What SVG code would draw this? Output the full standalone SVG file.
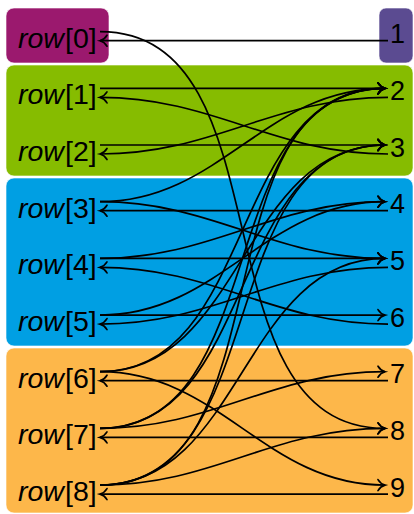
<svg xmlns="http://www.w3.org/2000/svg" width="414" height="514" viewBox="0 0 414 514">
<defs>
<style>
.box{stroke:#ffffff;stroke-opacity:0.6;stroke-width:1}
.lbl{font-family:"Liberation Sans",Arial,sans-serif;font-size:28.5px;fill:#000}
.num{font-family:"Liberation Sans",Arial,sans-serif;font-size:27px;fill:#000;text-anchor:middle}
.it{font-style:italic}
.e{fill:none;stroke:#000;stroke-width:1.7;marker-end:url(#ah)}
</style>
<marker id="ah" viewBox="-9 -7 12 14" markerWidth="12" markerHeight="14" refX="0" refY="0" orient="auto" markerUnits="userSpaceOnUse" overflow="visible">
<path d="M-7,-5.5 C-5,-2.2 -2.2,-0.6 0,0 C-2.2,0.6 -5,2.2 -7,5.5" fill="none" stroke="#000" stroke-width="1.7" stroke-linecap="round"/>
</marker>
</defs>
<g id="groups">
<rect class="box" x="6" y="8" width="103" height="55" rx="8" fill="#9b196e"/>
<rect class="box" x="379" y="8" width="34" height="55" rx="7" fill="#5b4b91"/>
<rect class="box" x="6" y="65" width="407" height="111" rx="8" fill="#86bc00"/>
<rect class="box" x="6" y="178" width="407" height="168" rx="8" fill="#009fe3"/>
<rect class="box" x="6" y="348" width="407" height="165" rx="8" fill="#fdb74a"/>
</g>
<g id="row0"><text class="lbl it" x="18" y="47.5">row</text><text class="lbl" x="65" y="47.5">[0]</text></g>
<g id="row1"><text class="lbl it" x="18" y="104.2">row</text><text class="lbl" x="65" y="104.2">[1]</text></g>
<g id="row2"><text class="lbl it" x="18" y="160.8">row</text><text class="lbl" x="65" y="160.8">[2]</text></g>
<g id="row3"><text class="lbl it" x="18" y="217.5">row</text><text class="lbl" x="65" y="217.5">[3]</text></g>
<g id="row4"><text class="lbl it" x="18" y="274.2">row</text><text class="lbl" x="65" y="274.2">[4]</text></g>
<g id="row5"><text class="lbl it" x="18" y="330.9">row</text><text class="lbl" x="65" y="330.9">[5]</text></g>
<g id="row6"><text class="lbl it" x="18" y="387.5">row</text><text class="lbl" x="65" y="387.5">[6]</text></g>
<g id="row7"><text class="lbl it" x="18" y="444.2">row</text><text class="lbl" x="65" y="444.2">[7]</text></g>
<g id="row8"><text class="lbl it" x="18" y="500.9">row</text><text class="lbl" x="65" y="500.9">[8]</text></g>
<g id="v1"><text class="num" x="397.5" y="43.3">1</text></g>
<g id="v2"><text class="num" x="397.5" y="100">2</text></g>
<g id="v3"><text class="num" x="397.5" y="156.6">3</text></g>
<g id="v4"><text class="num" x="397.5" y="213.3">4</text></g>
<g id="v5"><text class="num" x="397.5" y="270">5</text></g>
<g id="v6"><text class="num" x="397.5" y="326.7">6</text></g>
<g id="v7"><text class="num" x="397.5" y="383.3">7</text></g>
<g id="v8"><text class="num" x="397.5" y="440">8</text></g>
<g id="v9"><text class="num" x="397.5" y="496.7">9</text></g>
<g id="connectors">
<path class="e" d="M100,31.7 C291.2,31.7 193.8,428.4 385,428.4"/>
<path class="e" d="M100,88.4 H385"/>
<path class="e" d="M100,145 H385"/>
<path class="e" d="M100,201.7 C220.1,201.7 264.9,88.4 385,88.4"/>
<path class="e" d="M100,201.7 C213.8,201.7 271.2,258.4 385,258.4"/>
<path class="e" d="M100,258.4 C213.8,258.4 271.2,201.7 385,201.7"/>
<path class="e" d="M100,258.4 H385"/>
<path class="e" d="M100,315.1 C220.1,315.1 264.9,201.7 385,201.7"/>
<path class="e" d="M100,315.1 H385"/>
<path class="e" d="M100,371.7 C257.3,371.7 227.7,88.4 385,88.4"/>
<path class="e" d="M100,371.7 C242.6,371.7 242.4,145 385,145"/>
<path class="e" d="M100,371.7 C220.1,371.7 264.9,485.1 385,485.1"/>
<path class="e" d="M100,428.4 C273.7,428.4 211.3,88.4 385,88.4"/>
<path class="e" d="M100,428.4 C257.3,428.4 227.7,145 385,145"/>
<path class="e" d="M100,428.4 C213.8,428.4 271.2,371.7 385,371.7"/>
<path class="e" d="M100,485.1 C291.2,485.1 193.8,88.4 385,88.4"/>
<path class="e" d="M100,485.1 C273.7,485.1 211.3,145 385,145"/>
<path class="e" d="M100,485.1 C242.6,485.1 242.4,258.4 385,258.4"/>
<path class="e" d="M100,485.1 C213.8,485.1 271.2,428.4 385,428.4"/>
<path class="e" d="M388,40.7 H100"/>
<path class="e" d="M388,154 C273.1,154 214.9,97.4 100,97.4"/>
<path class="e" d="M388,97.4 C273.1,97.4 214.9,154 100,154"/>
<path class="e" d="M388,210.7 H100"/>
<path class="e" d="M388,324.1 C273.1,324.1 214.9,267.4 100,267.4"/>
<path class="e" d="M388,267.4 C273.1,267.4 214.9,324.1 100,324.1"/>
<path class="e" d="M388,380.7 H100"/>
<path class="e" d="M388,437.4 H100"/>
<path class="e" d="M388,494.1 H100"/>
</g>
</svg>
